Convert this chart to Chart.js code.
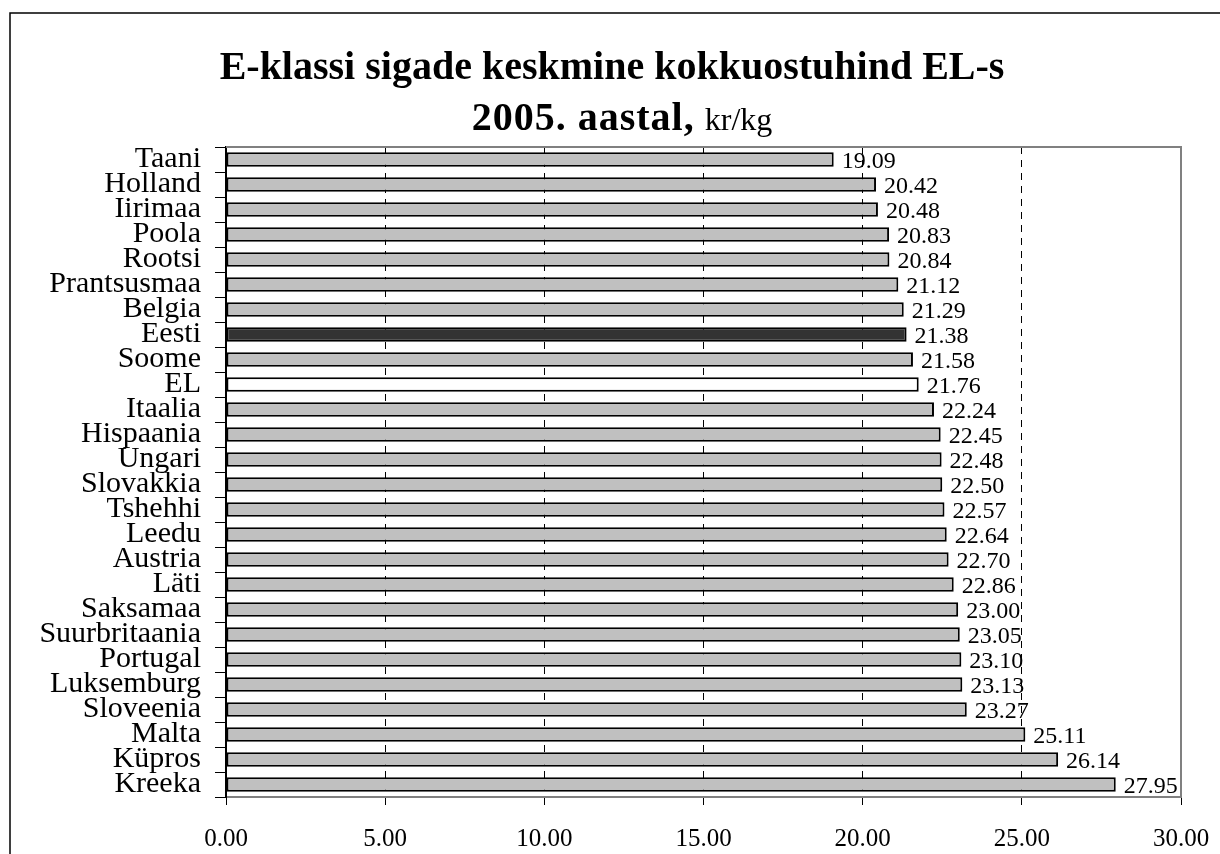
<!DOCTYPE html>
<html>
<head>
<meta charset="utf-8">
<script src="https://cdn.jsdelivr.net/npm/chart.js@4/dist/chart.umd.min.js"></script>
<style>
  html, body { margin: 0; padding: 0; background: #fff; }
  #wrap { position: relative; width: 1220px; height: 854px; overflow: hidden; }
  #chart { position: absolute; left: 0; top: 0; }
  .title { position: absolute; width: 1220px; text-align: center;
           font-family: "Liberation Serif", "Times New Roman", serif; font-weight: bold;
           font-size: 40px; line-height: 40px; color: #000; white-space: nowrap; }
  .title .yr { letter-spacing: 1px; }
  .title .unit { font-weight: normal; font-size: 32px; letter-spacing: 0; }
</style>
</head>
<body>
<div id="wrap">
  <canvas id="chart" width="1220" height="854"></canvas>
  <div class="title" style="top:46px; left:2px;">E-klassi sigade keskmine kokkuostuhind EL-s</div>
  <div class="title" style="top:97px; left:12px;"><span class="yr">2005. aastal,</span> <span class="unit">kr/kg</span></div>
</div>
<script>
const countries = ['Taani', 'Holland', 'Iirimaa', 'Poola', 'Rootsi', 'Prantsusmaa', 'Belgia', 'Eesti',
  'Soome', 'EL', 'Itaalia', 'Hispaania', 'Ungari', 'Slovakkia', 'Tshehhi', 'Leedu', 'Austria',
  'Läti', 'Saksamaa', 'Suurbritaania', 'Portugal', 'Luksemburg', 'Sloveenia', 'Malta', 'Küpros', 'Kreeka'];
const prices = [19.09, 20.42, 20.48, 20.83, 20.84, 21.12, 21.29, 21.38, 21.58, 21.76, 22.24, 22.45,
  22.48, 22.50, 22.57, 22.64, 22.70, 22.86, 23.00, 23.05, 23.10, 23.13, 23.27, 25.11, 26.14, 27.95];
const xTicks = [0, 5, 10, 15, 20, 25, 30];

const serif = '"Liberation Serif", "Times New Roman", serif';

// bar fill: Eesti dark, EL white, the rest grey
const barColors = countries.map(c => c === 'Eesti' ? '#333333' : (c === 'EL' ? '#ffffff' : '#c0c0c0'));

// outer frame + grey top/right plot border
const framePlugin = {
  id: 'frame',
  beforeDraw(chart) {
    const ctx = chart.ctx;
    ctx.save();
    ctx.strokeStyle = '#000';
    ctx.lineWidth = 1.5;
    ctx.strokeRect(10, 13, 1400, 1000);
    ctx.restore();
  },
  afterDraw(chart) {
    const ctx = chart.ctx;
    const a = chart.chartArea;
    ctx.save();
    ctx.strokeStyle = '#808080';
    ctx.lineWidth = 2;
    ctx.beginPath();
    ctx.moveTo(a.left, a.top);
    ctx.lineTo(a.right, a.top);
    ctx.lineTo(a.right, a.bottom);
    ctx.stroke();
    ctx.restore();
  }
};

// value labels at the end of each bar
const valueLabels = {
  id: 'valueLabels',
  afterDatasetsDraw(chart) {
    const ctx = chart.ctx;
    const meta = chart.getDatasetMeta(0);
    ctx.save();
    ctx.font = '24px ' + serif;
    ctx.fillStyle = '#000';
    ctx.textAlign = 'left';
    ctx.textBaseline = 'middle';
    meta.data.forEach((bar, i) => {
      ctx.fillText(prices[i].toFixed(2), bar.x + 8, bar.y + 2);
    });
    ctx.restore();
  }
};

new Chart(document.getElementById('chart').getContext('2d'), {
  type: 'bar',
  data: {
    labels: countries,
    datasets: [{
      data: prices,
      backgroundColor: barColors,
      borderColor: '#000',
      borderWidth: 2,
      borderSkipped: false,
      categoryPercentage: 1,
      barPercentage: 0.58
    }]
  },
  options: {
    indexAxis: 'y',
    responsive: false,
    animation: false,
    events: [],
    layout: { padding: { top: 147, right: 39, left: 0, bottom: 0 } },
    plugins: { legend: { display: false }, tooltip: { enabled: false }, title: { display: false } },
    scales: {
      x: {
        min: 0, max: 30,
        afterBuildTicks: (scale) => { scale.ticks = xTicks.map(v => ({ value: v })); },
        afterFit: (scale) => {
          scale.height = 57;
          scale.paddingLeft = 0;
          scale.paddingRight = 0;
        },
        ticks: {
          font: { family: serif, size: 25 },
          color: '#000',
          padding: 19,
          maxRotation: 0,
          callback: (v) => Number(v).toFixed(2)
        },
        grid: {
          color: (c) => (c.tick && (c.tick.value === 0 || c.tick.value === 30)) ? 'rgba(0,0,0,0)' : '#000',
          tickColor: '#000',
          tickBorderDash: [],
          lineWidth: 1,
          tickLength: 8
        },
        border: { color: '#808080', width: 2, dash: [7, 6] }
      },
      y: {
        afterFit: (scale) => { scale.width = 226; },
        ticks: {
          font: { family: serif, size: 30 },
          color: '#000',
          padding: 14,
          autoSkip: false
        },
        grid: {
          drawOnChartArea: false,
          offset: true,
          color: '#000',
          tickLength: 11
        },
        border: { color: '#000', width: 2 }
      }
    }
  },
  plugins: [framePlugin, valueLabels]
});
</script>
</body>
</html>
